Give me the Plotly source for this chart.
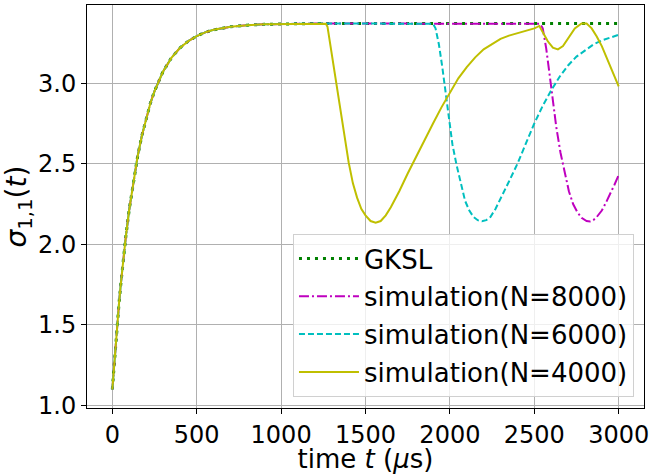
import plotly.graph_objects as go

# common initial rise (all curves coincide)
t_rise = [0, 10, 20, 30, 40, 50, 65, 80, 100, 125, 150, 175, 200, 225, 250, 275, 300,
          350, 400, 450, 500, 550, 600, 700, 800, 900, 1000, 1100, 1200]
y_rise = [1.10, 1.248, 1.387, 1.517, 1.638, 1.751, 1.907, 2.048, 2.215, 2.395, 2.547, 2.674,
          2.782, 2.874, 2.951, 3.016, 3.071, 3.157, 3.218, 3.261, 3.292, 3.315, 3.331, 3.350,
          3.360, 3.365, 3.367, 3.369, 3.370]

# GKSL plateau
t_gksl = [1500, 2000, 2500, 3000]
y_gksl = [3.370, 3.370, 3.370, 3.370]

# simulation N=8000
t_8000 = [1500, 2000, 2500, 2535, 2550, 2570, 2590, 2610, 2630, 2655, 2680, 2705, 2730, 2755,
          2780, 2810, 2830, 2850, 2870, 2900, 2925, 2950, 2975, 3000]
y_8000 = [3.370, 3.370, 3.370, 3.368, 3.34, 3.22, 3.06, 2.89, 2.73, 2.57, 2.44, 2.33, 2.25, 2.20,
          2.165, 2.145, 2.142, 2.15, 2.17, 2.21, 2.26, 2.31, 2.37, 2.43]

# simulation N=6000
t_6000 = [1500, 1850, 1900, 1915, 1935, 1955, 1975, 1995, 2015, 2040, 2065, 2090, 2115, 2140,
          2165, 2190, 2215, 2240, 2270, 2300, 2350, 2400, 2450, 2500, 2550, 2600, 2650, 2700,
          2750, 2800, 2850, 2900, 2950, 3000]
y_6000 = [3.370, 3.370, 3.368, 3.34, 3.24, 3.10, 2.93, 2.77, 2.62, 2.49, 2.37, 2.27, 2.21, 2.17,
          2.15, 2.143, 2.15, 2.17, 2.22, 2.28, 2.39, 2.50, 2.63, 2.75, 2.86, 2.955, 3.04, 3.11,
          3.165, 3.205, 3.24, 3.265, 3.285, 3.30]

# simulation N=4000
t_4000 = [1250, 1265, 1275, 1290, 1310, 1330, 1350, 1375, 1400, 1425, 1450, 1475, 1500, 1530,
          1560, 1590, 1620, 1650, 1700, 1750, 1800, 1850, 1900, 1950, 2000, 2050, 2100, 2150,
          2200, 2250, 2300, 2350, 2400, 2450, 2500, 2530, 2550, 2580, 2610, 2640, 2670, 2700,
          2740, 2780, 2810, 2840, 2870, 2900, 2950, 3000]
y_4000 = [3.370, 3.368, 3.35, 3.25, 3.12, 2.98, 2.83, 2.67, 2.51, 2.38, 2.29, 2.22, 2.18, 2.145,
          2.135, 2.145, 2.18, 2.23, 2.33, 2.44, 2.54, 2.65, 2.75, 2.85, 2.94, 3.03, 3.10, 3.16,
          3.21, 3.245, 3.275, 3.295, 3.31, 3.325, 3.34, 3.355, 3.32, 3.26, 3.22, 3.21, 3.23,
          3.28, 3.34, 3.37, 3.37, 3.34, 3.29, 3.23, 3.11, 2.98]

series = [
    ("GKSL", t_gksl, y_gksl, "#008000", "3px,5px", 3),
    ("simulation(N=8000)", t_8000, y_8000, "#bf00bf", "10px,3px,2px,3px", 2),
    ("simulation(N=6000)", t_6000, y_6000, "#00bfbf", "6px,3px", 2),
    ("simulation(N=4000)", t_4000, y_4000, "#bfbf00", "solid", 2),
]

FONT = "DejaVu Sans, Liberation Sans, sans-serif"
fig = go.Figure()
for name, tt, yy, color, dash, w in series:
    fig.add_trace(go.Scatter(
        x=t_rise + tt, y=y_rise + yy, mode="lines", name=name, legendgroup=name,
        line=dict(color=color, dash=dash, width=w),
    ))

axis_common = dict(
    showline=True, linecolor="black", linewidth=1, mirror=True,
    ticks="outside", ticklen=5, tickcolor="black", tickwidth=1,
    showgrid=True, gridcolor="#b0b0b0", gridwidth=1, zeroline=False,
    tickfont=dict(family=FONT, size=24, color="black"),
    ticklabeloverflow="allow",
)

fig.update_layout(
    width=653, height=474,
    margin=dict(l=87, r=6, t=4, b=64),
    paper_bgcolor="white", plot_bgcolor="white",
    font=dict(family=FONT, color="black"),
    xaxis=dict(range=[-150, 3150], tickvals=[0, 500, 1000, 1500, 2000, 2500, 3000],
               title=dict(text="time <i>t</i> (<i>μ</i>s)", font=dict(family=FONT, size=26), standoff=3),
               **axis_common),
    yaxis=dict(range=[0.985, 3.485], tickvals=[1.0, 1.5, 2.0, 2.5, 3.0], tickformat=".1f",
               title=dict(text="<i>σ</i><sub>1,1</sub>(<i>t</i>)", font=dict(family=FONT, size=28), standoff=4),
               **axis_common),
    legend=dict(
        x=0.982, y=0.027, xanchor="right", yanchor="bottom",
        bgcolor="rgba(255,255,255,0.8)", bordercolor="#d0d0d0", borderwidth=1,
        font=dict(family=FONT, size=26, color="black"), tracegroupgap=1,
        itemwidth=60,
    ),
    showlegend=True,
)

fig.write_html("out.html")
